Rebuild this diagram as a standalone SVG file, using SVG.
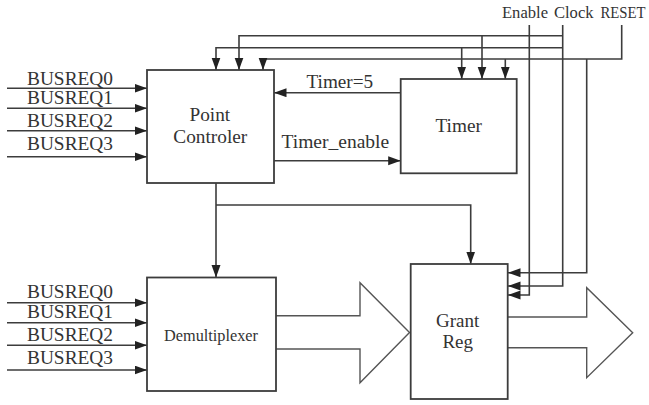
<svg xmlns="http://www.w3.org/2000/svg" width="649" height="405" viewBox="0 0 649 405">
<style>
.box{fill:#fff;stroke:#3c3c3c;stroke-width:1.8}
.ln{fill:none;stroke:#3c3c3c;stroke-width:1.6}
.arr{marker-end:url(#ah)}
.big{fill:#fff;stroke:#555;stroke-width:1.4}
text{fill:#333;font-family:"Liberation Serif","Times New Roman",Times,serif}
.t19{font-size:19px}
.t16{font-size:16px}
</style>
<defs>
<marker id="ah" markerUnits="userSpaceOnUse" markerWidth="13" markerHeight="10" refX="12.5" refY="4.5" orient="auto">
<path d="M0,0 L12.5,4.5 L0,9 z" fill="#222"/>
</marker>
</defs>
<rect width="649" height="405" fill="#fff"/>
<g id="connectors">
<path class="ln arr" d="M7,88.3 H147"/>
<path class="ln arr" d="M7,108.3 H147"/>
<path class="ln arr" d="M7,130.7 H147"/>
<path class="ln arr" d="M7,156.7 H147"/>
<path class="ln arr" d="M7,302.7 H147"/>
<path class="ln arr" d="M7,322.7 H147"/>
<path class="ln arr" d="M7,345.3 H147"/>
<path class="ln arr" d="M7,370 H147"/>
<path class="ln arr" d="M562.7,35.7 H239 V70"/>
<path class="ln arr" d="M482,35.7 V79"/>
<path class="ln arr" d="M562.7,47.7 H216 V70"/>
<path class="ln arr" d="M461.7,47.7 V79"/>
<path class="ln arr" d="M621.7,25 V59 H263 V70"/>
<path class="ln arr" d="M505.3,59 V79"/>
<path class="ln arr" d="M586.7,59 V272.7 H508"/>
<path class="ln arr" d="M562.7,25 V286 H508"/>
<path class="ln arr" d="M529.3,25 V295 H508"/>
<path class="ln arr" d="M400.7,92.7 H274"/>
<path class="ln arr" d="M274,160.7 H400.7"/>
<path class="ln arr" d="M216,183 V277.5"/>
<path class="ln arr" d="M216,205 H470.7 V264"/>
<polyline class="big" points="276,315.7 360,315.7 360,282.7 409.5,332.5 360,382.7 360,349 276,349"/>
<polyline class="big" points="507.7,317 586.7,317 586.7,287.7 632.7,332.7 586.7,377.7 586.7,347.7 507.7,347.7"/>
</g>
<g id="labels">
<text class="t19" x="27" y="85" textLength="86" lengthAdjust="spacingAndGlyphs">BUSREQ0</text>
<text class="t19" x="27" y="104" textLength="86" lengthAdjust="spacingAndGlyphs">BUSREQ1</text>
<text class="t19" x="27" y="127" textLength="86" lengthAdjust="spacingAndGlyphs">BUSREQ2</text>
<text class="t19" x="27" y="150" textLength="86" lengthAdjust="spacingAndGlyphs">BUSREQ3</text>
<text class="t19" x="27" y="297.5" textLength="86" lengthAdjust="spacingAndGlyphs">BUSREQ0</text>
<text class="t19" x="27" y="318" textLength="86" lengthAdjust="spacingAndGlyphs">BUSREQ1</text>
<text class="t19" x="27" y="340.5" textLength="86" lengthAdjust="spacingAndGlyphs">BUSREQ2</text>
<text class="t19" x="27" y="364" textLength="86" lengthAdjust="spacingAndGlyphs">BUSREQ3</text>
<text class="t19" x="306.5" y="88" textLength="66.7" lengthAdjust="spacingAndGlyphs">Timer=5</text>
<text class="t19" x="281.5" y="147.5" textLength="107.7" lengthAdjust="spacingAndGlyphs">Timer_enable</text>
<text x="502" y="18.3" font-size="16" textLength="46" lengthAdjust="spacingAndGlyphs">Enable</text>
<text x="554" y="18.3" font-size="16" textLength="39.5" lengthAdjust="spacingAndGlyphs">Clock</text>
<text x="600.5" y="18.3" font-size="16" textLength="45" lengthAdjust="spacingAndGlyphs">RESET</text>
</g>
<g id="point-controler">
<rect class="box" x="147" y="70" width="127" height="113"/>
<text class="t19" x="189.5" y="120.7" textLength="40.7" lengthAdjust="spacingAndGlyphs">Point</text>
<text class="t19" x="173.3" y="142.7" textLength="74" lengthAdjust="spacingAndGlyphs">Controler</text>
</g>
<g id="timer">
<rect class="box" x="400.7" y="79" width="116" height="94.3"/>
<text class="t19" x="435.5" y="132" textLength="46.4" lengthAdjust="spacingAndGlyphs">Timer</text>
</g>
<g id="demultiplexer">
<rect class="box" x="147" y="277.5" width="129" height="113.5"/>
<text class="t16" x="164" y="340.5" textLength="94" lengthAdjust="spacingAndGlyphs">Demultiplexer</text>
</g>
<g id="grant-reg">
<rect class="box" x="410.7" y="264" width="97" height="135"/>
<text class="t19" x="436" y="326.7" textLength="43.3" lengthAdjust="spacingAndGlyphs">Grant</text>
<text class="t19" x="442.4" y="348" textLength="30.6" lengthAdjust="spacingAndGlyphs">Reg</text>
</g>
</svg>
